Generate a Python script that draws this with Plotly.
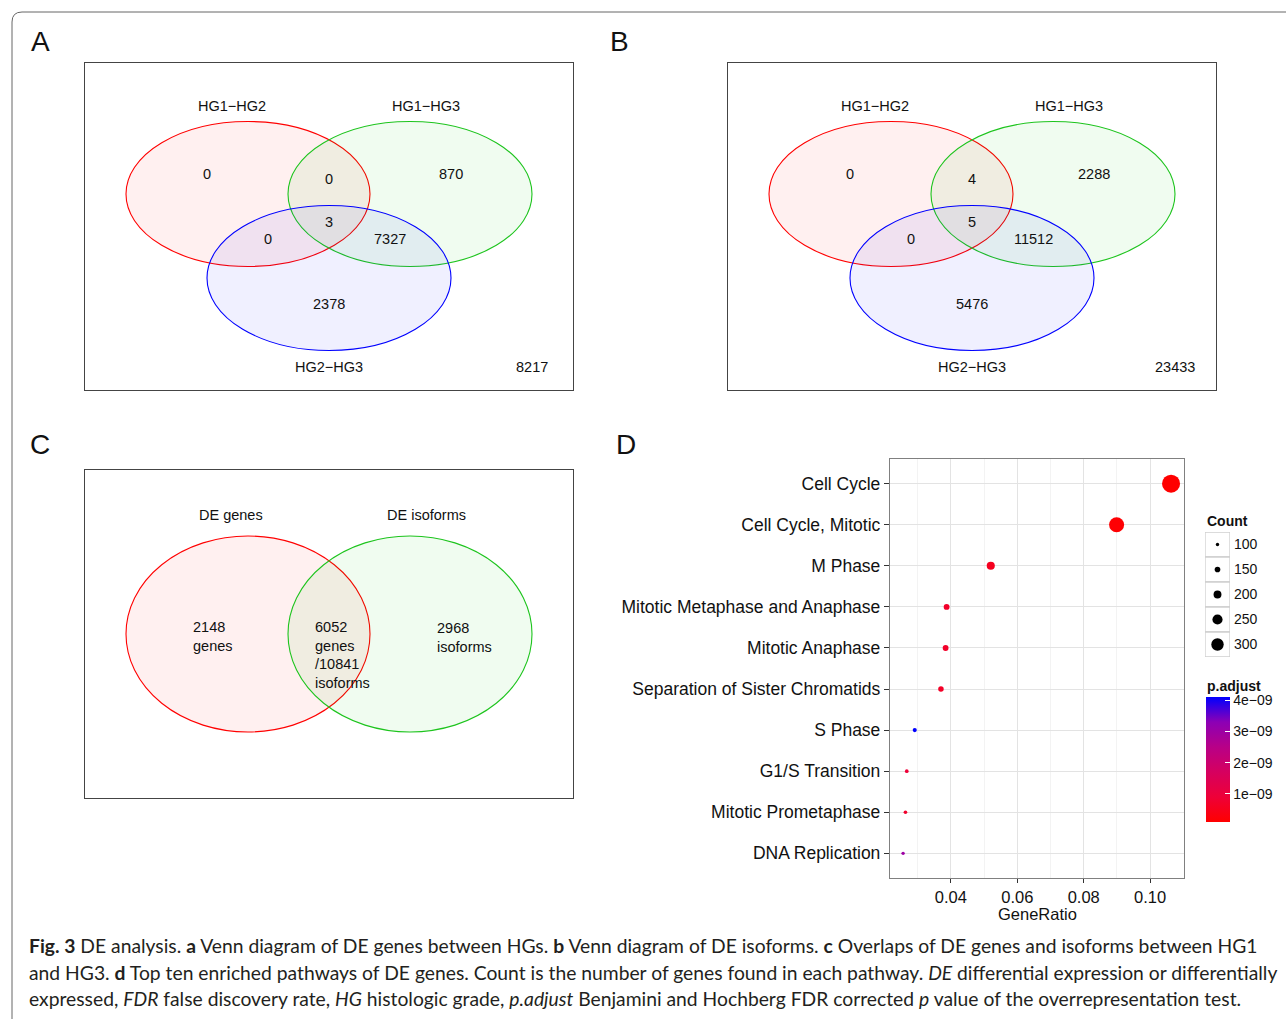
import plotly.graph_objects as go

W, H = 1286, 1019

def px(x):
    return x / W

def py(y):
    return 1 - y / H

# ---------------- data ----------------
# Panel A: DE genes between HGs (regions: only12, 12&13, only13, all, 12&23, 13&23, only23)
venn_a_sets = ["HG1\u2212HG2", "HG1\u2212HG3", "HG2\u2212HG3"]
venn_a_counts = [0, 0, 870, 3, 0, 7327, 2378]
venn_a_outside = 8217
# Panel B: DE isoforms between HGs
venn_b_sets = ["HG1\u2212HG2", "HG1\u2212HG3", "HG2\u2212HG3"]
venn_b_counts = [0, 4, 2288, 5, 0, 11512, 5476]
venn_b_outside = 23433
# Panel C: DE genes vs DE isoforms
venn_c_sets = ["DE genes", "DE isoforms"]
venn_c_genes_only = 2148
venn_c_shared_genes = 6052
venn_c_shared_isoforms = 10841
venn_c_isoforms_only = 2968
# Panel D: enriched pathways
pathways = ["Cell Cycle", "Cell Cycle, Mitotic", "M Phase", "Mitotic Metaphase and Anaphase",
            "Mitotic Anaphase", "Separation of Sister Chromatids", "S Phase", "G1/S Transition",
            "Mitotic Prometaphase", "DNA Replication"]
gene_ratio = [0.1063, 0.0899, 0.0520, 0.0387, 0.0384, 0.0370, 0.0291, 0.0267, 0.0263, 0.0256]
counts = [425, 360, 205, 155, 154, 147, 116, 106, 105, 101]
p_adjust = [1.0e-10, 1.5e-10, 5.5e-10, 7.0e-10, 7.0e-10, 6.5e-10, 4.1e-9, 9.0e-10, 7.5e-10, 3.0e-9]
count_breaks = [100, 150, 200, 250, 300]
padj_ticks = [1e-9, 2e-9, 3e-9, 4e-9]
padj_ticktext = ["1e\u221209", "2e\u221209", "3e\u221209", "4e\u221209"]
xticks = [0.04, 0.06, 0.08, 0.10]


def dot_size(c):
    return 3.4 + (c - 100) * 0.045


FONT = "Liberation Sans, Arial, sans-serif"
colorscale = [[0.0, "#FF0000"], [0.2, "#EE0038"], [0.4, "#D6005F"], [0.6, "#B80087"],
              [0.8, "#8C00B5"], [1.0, "#0000FF"]]

fig = go.Figure()

# ---------------- panel D scatter ----------------
fig.add_trace(go.Scatter(
    x=gene_ratio, y=pathways, mode="markers", xaxis="x", yaxis="y",
    marker=dict(size=[dot_size(c) for c in counts], color=p_adjust, colorscale=colorscale,
                cmin=1.0e-10, cmax=4.1e-9, opacity=1, line=dict(width=0),
                colorbar=dict(x=px(1206), xanchor="left", y=py(697), yanchor="top",
                              thickness=24, thicknessmode="pixels", len=125, lenmode="pixels",
                              outlinewidth=0, xpad=0, ypad=0,
                              tickvals=padj_ticks, ticktext=padj_ticktext,
                              ticks="inside", tickcolor="white", ticklen=5,
                              tickfont=dict(family=FONT, size=14, color="#111"))),
    showlegend=False, hoverinfo="skip"))

# count size legend
fig.add_trace(go.Scatter(
    x=[0] * len(count_breaks), y=list(range(len(count_breaks))), mode="markers",
    xaxis="x5", yaxis="y5",
    marker=dict(size=[dot_size(c) for c in count_breaks], color="black", opacity=1,
                line=dict(width=0)),
    showlegend=False, hoverinfo="skip"))

venn_axis = dict(showgrid=False, zeroline=False, showticklabels=False, ticks="",
                 showline=True, mirror=True, linecolor="#444", linewidth=1.2, fixedrange=True)

layout = dict(
    width=W, height=H, margin=dict(l=0, r=0, t=0, b=0),
    paper_bgcolor="white", plot_bgcolor="white", showlegend=False,
    font=dict(family=FONT, color="#111"),
    xaxis=dict(domain=[px(890), px(1184)], range=[0.02165, 0.1102], anchor="y",
               tickvals=xticks, ticktext=[f"{v:.2f}" for v in xticks],
               tickfont=dict(size=16.5, color="#111"), ticks="outside", ticklen=4, tickcolor="#333",
               showgrid=True, gridcolor="#E3E3E3", gridwidth=1.2,
               minor=dict(dtick=0.01, tick0=0.03, showgrid=True, gridcolor="#F3F3F3", gridwidth=1),
               showline=True, mirror=True, linecolor="#808080", linewidth=1.3, zeroline=False),
    yaxis=dict(domain=[py(878), py(459)], anchor="x", type="category",
               categoryorder="array", categoryarray=pathways[::-1], range=[-0.6, 9.6],
               tickfont=dict(size=17.5, color="#111"), ticks="outside", ticklen=5, tickcolor="#333",
               showgrid=True, gridcolor="#E3E3E3", gridwidth=1.2,
               showline=True, mirror=True, linecolor="#808080", linewidth=1.3, zeroline=False),
    xaxis2=dict(domain=[px(85), px(573)], range=[0, 488], anchor="y2", **venn_axis),
    yaxis2=dict(domain=[py(390), py(63)], range=[327, 0], anchor="x2", **venn_axis),
    xaxis3=dict(domain=[px(728), px(1216)], range=[0, 488], anchor="y3", **venn_axis),
    yaxis3=dict(domain=[py(390), py(63)], range=[327, 0], anchor="x3", **venn_axis),
    xaxis4=dict(domain=[px(85), px(573)], range=[0, 488], anchor="y4", **venn_axis),
    yaxis4=dict(domain=[py(798), py(470)], range=[328, 0], anchor="x4", **venn_axis),
    xaxis5=dict(domain=[px(1205), px(1230)], range=[-0.5, 0.5], anchor="y5",
                showgrid=False, zeroline=False, showticklabels=False, ticks="", showline=False,
                fixedrange=True),
    yaxis5=dict(domain=[py(657), py(532)], range=[len(count_breaks) - 0.5, -0.5], anchor="x5",
                side="right", tickvals=list(range(len(count_breaks))),
                ticktext=[str(b) for b in count_breaks], tickfont=dict(size=14, color="#111"),
                ticklabelstandoff=3,
                showgrid=False, zeroline=False, ticks="", showline=False, fixedrange=True),
)

shapes = []
annotations = []

# outer rounded frame
shapes.append(dict(type="path", xref="paper", yref="paper",
                   path=(f"M {px(12)},{py(1030)} L {px(12)},{py(22)} "
                         f"Q {px(12)},{py(12)} {px(22)},{py(12)} L {px(1300)},{py(12)}"),
                   line=dict(color="#666", width=1)))

# x-axis title of panel D
annotations.append(dict(xref="x domain", yref="paper", x=0.5, y=py(914), xanchor="center",
                        yanchor="middle", text="GeneRatio", showarrow=False,
                        font=dict(size=16.5, color="#111")))

# ---- three-set venns (A, B) ----
ellipses3 = [  # (cx, cy, rx, ry, line colour, fill)
    (163, 131, 122, 72.5, "#FF0000", "rgba(255,0,0,0.06)"),
    (325, 131, 122, 72.5, "#1DC41D", "rgba(0,200,0,0.06)"),
    (244, 215, 122, 72.5, "#0000FF", "rgba(0,0,255,0.06)"),
]
region_pos3 = [(122, 111), (244, 116), (366, 111), (244, 159), (183, 176), (305, 176), (244, 241)]
set_label_pos3 = [(147, 43), (341, 43), (244, 304)]
outside_pos = (447, 304)

for ax, sets, cnts, outside in (("2", venn_a_sets, venn_a_counts, venn_a_outside),
                                ("3", venn_b_sets, venn_b_counts, venn_b_outside)):
    for (cx, cy, rx, ry, lc, fc) in ellipses3:
        shapes.append(dict(type="circle", xref="x" + ax, yref="y" + ax,
                           x0=cx - rx, x1=cx + rx, y0=cy - ry, y1=cy + ry,
                           line=dict(color=lc, width=1.1), fillcolor=fc, layer="above"))
    for (x, y), c in zip(region_pos3, cnts):
        annotations.append(dict(xref="x" + ax, yref="y" + ax, x=x, y=y, text=str(c),
                                xanchor="center", yanchor="middle",
                                showarrow=False, font=dict(size=14.5, color="#111")))
    for (x, y), s in zip(set_label_pos3, sets):
        annotations.append(dict(xref="x" + ax, yref="y" + ax, x=x, y=y, text=s,
                                xanchor="center", yanchor="middle",
                                showarrow=False, font=dict(size=14.5, color="#111")))
    annotations.append(dict(xref="x" + ax, yref="y" + ax, x=outside_pos[0], y=outside_pos[1],
                            xanchor="center", yanchor="middle",
                            text=str(outside), showarrow=False, font=dict(size=14.5, color="#111")))

# ---- two-set venn (C) ----
ellipses2 = [
    (163, 164, 122, 98, "#FF0000", "rgba(255,0,0,0.06)"),
    (325, 164, 122, 98, "#1DC41D", "rgba(0,200,0,0.06)"),
]
for (cx, cy, rx, ry, lc, fc) in ellipses2:
    shapes.append(dict(type="circle", xref="x4", yref="y4",
                       x0=cx - rx, x1=cx + rx, y0=cy - ry, y1=cy + ry,
                       line=dict(color=lc, width=1.1), fillcolor=fc, layer="above"))
for (x, y), s in zip([(146, 45), (341, 45)], venn_c_sets):
    annotations.append(dict(xref="x4", yref="y4", x=x, y=y, text=s, showarrow=False,
                            xanchor="center", yanchor="middle",
                            font=dict(size=14.5, color="#111")))
c_texts = [
    (106, 166.5, f"{venn_c_genes_only}<br>genes"),
    (228, 166.5, f"{venn_c_shared_genes}<br>genes"),
    (228, 203.5, f"/{venn_c_shared_isoforms}<br>isoforms"),
    (350, 167.5, f"{venn_c_isoforms_only}<br>isoforms"),
]
for x, y, t in c_texts:
    annotations.append(dict(xref="x4", yref="y4", x=x, y=y, text=t, showarrow=False,
                            xanchor="left", yanchor="middle", align="left",
                            font=dict(size=14.5, color="#111")))

# ---- count legend key boxes ----
for i in range(len(count_breaks)):
    shapes.append(dict(type="rect", xref="x5", yref="y5", x0=-0.5, x1=0.5, y0=i - 0.5, y1=i + 0.5,
                       line=dict(color="#CFCFCF", width=1.3), fillcolor="white", layer="below"))
annotations.append(dict(xref="paper", yref="paper", x=px(1205), y=py(521), xanchor="left",
                        yanchor="middle",
                        text="<b>Count</b>", showarrow=False, font=dict(size=14, color="#111")))
annotations.append(dict(xref="paper", yref="paper", x=px(1205), y=py(686), xanchor="left",
                        yanchor="middle",
                        text="<b>p.adjust</b>", showarrow=False, font=dict(size=14, color="#111")))

# ---- panel letters ----
for letter, x, y in (("A", 40, 42), ("B", 619, 42), ("C", 40, 444), ("D", 626, 444)):
    annotations.append(dict(xref="paper", yref="paper", x=px(x), y=py(y), text=letter,
                            xanchor="center", yanchor="middle",
                            showarrow=False, font=dict(size=28, color="#111")))

# ---- caption ----
caption_lines = [
    "<b>Fig. 3</b> DE analysis. <b>a</b> Venn diagram of DE genes between HGs. <b>b</b> Venn diagram "
    "of DE isoforms. <b>c</b> Overlaps of DE genes and isoforms between HG1",
    "and HG3. <b>d</b> Top ten enriched pathways of DE genes. Count is the number of genes found in "
    "each pathway. <i>DE</i> differential expression or differentially",
    "expressed, <i>FDR</i> false discovery rate, <i>HG</i> histologic grade, <i>p.adjust</i> Benjamini "
    "and Hochberg FDR corrected <i>p</i> value of the overrepresentation test.",
]
for text, y in zip(caption_lines, (945, 972, 998)):
    annotations.append(dict(xref="paper", yref="paper", x=px(27), y=py(y), xanchor="left",
                            yanchor="middle", text=text, showarrow=False,
                            font=dict(family="Lato, sans-serif", size=19.3, color="#231F20")))

layout["shapes"] = shapes
layout["annotations"] = annotations
fig.update_layout(**layout)

fig.write_html("out.html", config={"displayModeBar": False},
               post_script="document.body.style.margin='0px';")
